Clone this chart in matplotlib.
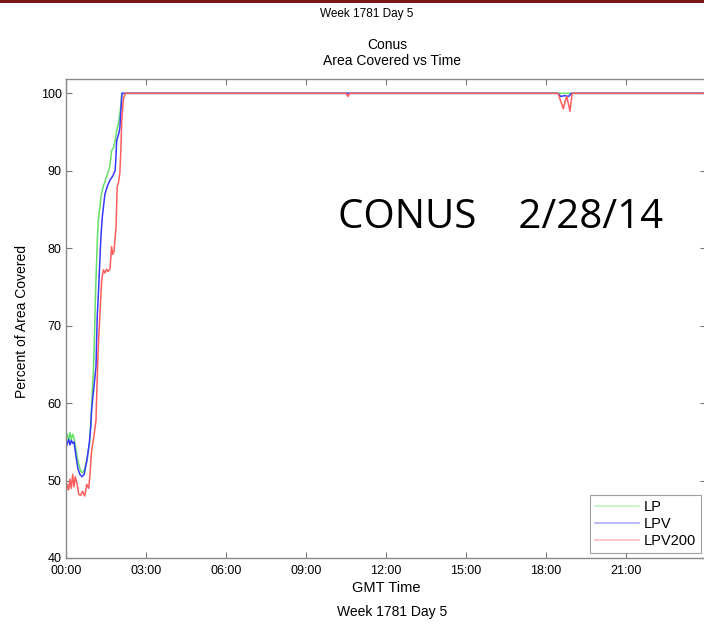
import matplotlib.pyplot as plt

# Coverage over the day (hours GMT, percent of area covered)
lp_t = [0, 0.05, 0.1, 0.15, 0.2, 0.25, 0.3, 0.35, 0.45, 0.55, 0.62, 0.7, 0.8, 0.88,
        0.93, 0.98, 1.02, 1.06, 1.09, 1.12, 1.15, 1.18, 1.21, 1.26, 1.32, 1.4, 1.5,
        1.6, 1.65, 1.71, 1.78, 1.85, 1.9, 1.96, 2.02, 2.06, 2.09, 2.2, 24]
lp_v = [55.2, 56.0, 55.0, 56.2, 55.3, 56.0, 55.5, 54.5, 52.5, 51.2, 51.0, 51.5, 53.0, 54.8,
        57.5, 61.0, 63.5, 67.5, 72.0, 75.5, 78.5, 81.5, 83.6, 85.0, 86.8, 88.0, 89.0,
        90.0, 90.8, 92.6, 93.0, 94.0, 95.2, 96.0, 97.4, 98.5, 100, 100, 100]

lpv_t = [0, 0.05, 0.1, 0.15, 0.2, 0.25, 0.3, 0.38, 0.45, 0.52, 0.6, 0.68, 0.78, 0.88,
         0.93, 0.96, 1.0, 1.06, 1.125, 1.17, 1.22, 1.27, 1.31, 1.36, 1.46, 1.55, 1.65,
         1.75, 1.84, 1.87, 1.9, 1.98, 2.02, 2.05, 2.1, 2.2, 18.45, 18.55, 18.7, 18.85,
         18.95, 24]
lpv_v = [54.2, 54.8, 55.3, 54.6, 55.2, 54.8, 55.0, 53.0, 51.5, 50.8, 50.5, 50.8, 52.5, 55.0,
         57.0, 59.1, 60.5, 62.5, 64.7, 71.1, 74.5, 78.5, 81.5, 84.0, 87.0, 88.0, 88.8,
         89.3, 90.0, 91.5, 93.9, 94.8, 95.5, 97.4, 100, 100, 100, 99.6, 99.7, 99.6,
         100, 100]

lpv200_t = [0, 0.05, 0.1, 0.15, 0.2, 0.25, 0.3, 0.35, 0.42, 0.48, 0.55, 0.62, 0.7, 0.78,
            0.85, 0.9, 0.96, 1.04, 1.125, 1.16, 1.21, 1.28, 1.34, 1.4, 1.46, 1.52, 1.58,
            1.65, 1.71, 1.75, 1.8, 1.875, 1.92, 1.97, 2.02, 2.06, 2.09, 2.15, 2.22,
            10.5, 10.57, 10.64, 18.45, 18.55, 18.65, 18.72, 18.78, 18.85, 18.9, 18.98, 24]
lpv200_v = [48.3, 49.5, 48.8, 50.2, 49.0, 50.8, 49.2, 50.5, 49.5, 48.2, 48.1, 48.6, 48.0, 49.5,
            49.0, 50.8, 53.9, 55.5, 57.8, 62.0, 67.3, 72.0, 75.9, 77.2, 76.8, 77.3, 77.0,
            77.3, 80.2, 79.2, 79.6, 82.7, 87.9, 88.5, 89.7, 93.0, 96.5, 99.2, 100,
            100, 99.6, 100, 100, 99.0, 98.0, 99.0, 99.6, 98.5, 97.7, 100, 100]

xtick_hours = [0, 3, 6, 9, 12, 15, 18, 21]
xtick_labels = ['00:00', '03:00', '06:00', '09:00', '12:00', '15:00', '18:00', '21:00']
ytick_values = [40, 50, 60, 70, 80, 90, 100]

plt.rcParams['font.family'] = ['Liberation Sans', 'DejaVu Sans']

fig = plt.figure(figsize=(7.04, 6.25), dpi=100)
ax = fig.add_axes([66 / 704, 67 / 625, 640 / 704, 479 / 625])

ax.plot(lp_t, lp_v, color='#66e066', lw=1.1, label='LP')
ax.plot(lpv_t, lpv_v, color='#3838ff', lw=1.1, label='LPV')
ax.plot(lpv200_t, lpv200_v, color='#ff5c5c', lw=1.1, label='LPV200')

ax.set_xlim(0, 24)
ax.set_ylim(40, 101.85)
ax.set_xticks(xtick_hours)
ax.set_xticklabels(xtick_labels)
ax.set_yticks(ytick_values)
ax.tick_params(direction='in', top=True, right=True, length=4, width=0.8,
               color='#777777', labelsize=9)
ax.tick_params(axis='x', pad=5)
ax.tick_params(axis='y', pad=3)
for s in ax.spines.values():
    s.set_color('#8a8a8a')
    s.set_linewidth(1.0)

ax.set_xlabel('GMT Time', fontsize=10.5)
ax.xaxis.set_label_coords(320 / 640, -(581 - 558) / 479)
ax.set_ylabel('Percent of Area Covered', fontsize=10)
ax.yaxis.set_label_coords(-(66 - 29) / 640, (558 - 321) / 479)

leg = ax.legend(loc='lower right', fontsize=10.5, frameon=True, fancybox=False,
                borderaxespad=0.35, handlelength=3.0, labelspacing=0.2,
                borderpad=0.35, handletextpad=0.3)
leg.get_frame().set_edgecolor('#888888')
leg.get_frame().set_linewidth(0.8)
for line in leg.get_lines():
    line.set_alpha(0.45)

fig.text(367 / 704, 1 - 14 / 625, 'Week 1781 Day 5', ha='center', va='center', fontsize=8.5)
fig.text(387 / 704, 1 - 45 / 625, 'Conus', ha='center', va='center', fontsize=10)
fig.text(392 / 704, 1 - 61 / 625, 'Area Covered vs Time', ha='center', va='center', fontsize=10)
fig.text(392 / 704, 1 - 612 / 625, 'Week 1781 Day 5', ha='center', va='center', fontsize=10)

fig.text(338 / 704, 1 - 228 / 625, 'CONUS    2/28/14', ha='left', va='baseline',
         fontsize=29, family='Open Sans', color='black')

# thin maroon band across the top
fig.add_artist(plt.Rectangle((0, 1 - 2.5 / 625), 1, 2.5 / 625, transform=fig.transFigure,
                             color='#7d1616', lw=0))

fig.savefig('out.png', dpi=100)
